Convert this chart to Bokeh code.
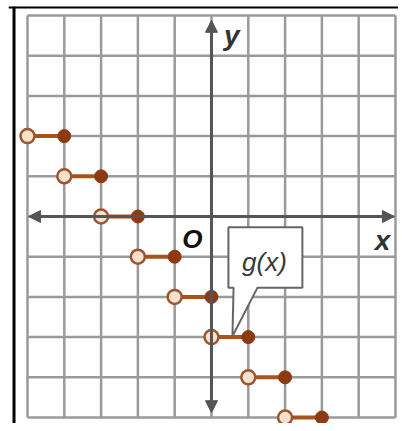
from bokeh.plotting import figure
from bokeh.models import Arrow, NormalHead, Span
from bokeh.core.properties import value
from bokeh.embed import file_html
from bokeh.resources import INLINE

# data
grid_ticks = [-5, -4, -3, -2, -1, 0, 1, 2, 3, 4, 5]
step_y = [2, 1, 0, -1, -2, -3, -4, -5]
open_x = [-5, -4, -3, -2, -1, 0, 1, 2]
closed_x = [-4, -3, -2, -1, 0, 1, 2, 3]

X0, X1 = -5.516, 5.082
Y0, Y1 = -5.149, 5.224

p = figure(width=398, height=423, x_range=(X0, X1), y_range=(Y0, Y1),
           output_backend="svg", toolbar_location=None, min_border=0,
           min_border_left=8, min_border_top=6)
p.xaxis.visible = False
p.yaxis.visible = False
p.grid.visible = False
p.outline_line_color = None
p.background_fill_color = "white"

lo, hi = min(grid_ticks), max(grid_ticks)
grid_col = "#9a9a9a"
p.segment(x0=grid_ticks, y0=[lo] * len(grid_ticks), x1=grid_ticks, y1=[hi] * len(grid_ticks),
          line_color=grid_col, line_width=2.5)
p.segment(x0=[lo] * len(grid_ticks), y0=grid_ticks, x1=[hi] * len(grid_ticks), y1=grid_ticks,
          line_color=grid_col, line_width=2.5)

axis_col = "#555555"
p.add_layout(Arrow(start=NormalHead(size=12, fill_color=axis_col, line_color=axis_col),
                   end=NormalHead(size=12, fill_color=axis_col, line_color=axis_col),
                   x_start=-4.97, y_start=0, x_end=4.97, y_end=0,
                   line_color=axis_col, line_width=3))
p.add_layout(Arrow(start=NormalHead(size=12, fill_color=axis_col, line_color=axis_col),
                   end=NormalHead(size=12, fill_color=axis_col, line_color=axis_col),
                   x_start=0, y_start=-4.88, x_end=0, y_end=4.88,
                   line_color=axis_col, line_width=3))

line_col = "#a8521c"
p.segment(x0=open_x, y0=step_y, x1=closed_x, y1=step_y, line_color=line_col, line_width=4)

# callout
bx = [0.46, 2.47, 2.47, 1.25, 0.57, 0.60, 0.46]
by = [-0.27, -0.27, -1.77, -1.77, -2.98, -1.77, -1.77]
p.patch(bx, by, fill_color="white", line_color="#666666", line_width=2)
p.text(x=[1.44], y=[-1.12], text=["g(x)"], text_font=value("Liberation Sans"),
       text_font_size="26px", text_font_style="italic", text_color="#3a3a3a",
       text_align="center", text_baseline="middle")

p.scatter(closed_x, step_y, size=13, fill_color="#8e3a10", line_color="#8e3a10")
p.scatter(open_x, step_y, size=14, fill_color="#f5e2cc", line_color="#9c5530", line_width=2.5)

p.text(x=[0.55], y=[4.5], text=["y"], text_font=value("Liberation Sans"),
       text_font_size="28px", text_font_style="bold italic", text_color="#333333",
       text_align="center", text_baseline="middle")
p.text(x=[4.65], y=[-0.6], text=["x"], text_font=value("Liberation Sans"),
       text_font_size="28px", text_font_style="bold italic", text_color="#333333",
       text_align="center", text_baseline="middle")
p.text(x=[-0.52], y=[-0.55], text=["O"], text_font=value("Liberation Sans"),
       text_font_size="26px", text_font_style="bold italic", text_color="#111111",
       text_align="center", text_baseline="middle")

# photo border lines
p.add_layout(Span(location=-5.366, dimension="height", line_color="black", line_width=3))
p.add_layout(Span(location=Y1, dimension="width", line_color="black", line_width=4))

open("out.html", "w").write(file_html(p, INLINE))
